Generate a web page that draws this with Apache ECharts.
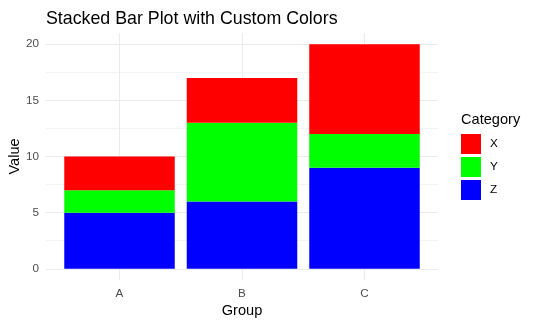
<!DOCTYPE html>
<html><head><meta charset="utf-8">
<script src="https://cdn.jsdelivr.net/npm/echarts@6/dist/echarts.min.js"></script>
<style>html,body{margin:0;padding:0;background:#fff}#c{width:534px;height:325px}</style>
</head><body><div id="c"></div>
<script>
const groups = ['A', 'B', 'C'];
const categories = ['X', 'Y', 'Z'];
const valuesX = [3, 4, 8];
const valuesY = [2, 7, 3];
const valuesZ = [5, 6, 9];
const yTicks = [0, 5, 10, 15, 20];
const yGridLines = [0, 2.5, 5, 7.5, 10, 12.5, 15, 17.5, 20];
const colors = { X: '#FF0000', Y: '#00FF00', Z: '#0000FF' };
const seriesValues = { X: valuesX, Y: valuesY, Z: valuesZ };

const font = '"Liberation Sans", Arial, sans-serif';
const chart = echarts.init(document.getElementById('c'), null, { renderer: 'canvas' });

const stackOrder = ['Z', 'Y', 'X'];
const series = stackOrder.map(k => ({
  name: k,
  type: 'bar',
  stack: 'total',
  barWidth: 110.5,
  itemStyle: { color: colors[k] },
  emphasis: { disabled: true },
  encode: { x: 1, y: 0 },
  data: seriesValues[k].map((v, i) => [v, i + 1])
}));

chart.setOption({
  animation: false,
  textStyle: { fontFamily: font },
  title: [
    { text: 'Stacked Bar Plot with Custom Colors', left: 41, top: 5,
      textStyle: { fontFamily: font, fontSize: 17.8, fontWeight: 'normal', color: '#000' } },
    { text: 'Category', left: 456, top: 107,
      textStyle: { fontFamily: font, fontSize: 14.6, fontWeight: 'normal', color: '#000' } }
  ],
  legend: {
    data: categories,
    orient: 'vertical',
    left: 456, top: 129,
    itemWidth: 20, itemHeight: 20, itemGap: 3,
    icon: 'rect',
    selectedMode: false,
    textStyle: { fontFamily: font, fontSize: 11.7, color: '#000', padding: [0, 0, 0, 4] }
  },
  grid: { left: 46, right: 96, top: 33, bottom: 45, containLabel: false, outerBoundsMode: 'none' },
  xAxis: {
    type: 'value', min: 0.4, max: 3.6,
    name: 'Group', nameLocation: 'middle', nameGap: 23, nameMoveOverlap: false,
    nameTextStyle: { fontFamily: font, fontSize: 14.6, color: '#000' },
    axisLine: { show: false },
    axisTick: { show: false, customValues: [1, 2, 3] },
    axisLabel: { customValues: [1, 2, 3], formatter: v => groups[Math.round(v) - 1],
      fontFamily: font, fontSize: 11.7, color: '#4D4D4D', margin: 8 },
    splitLine: { show: true, lineStyle: { color: '#EBEBEB', width: 1 } }
  },
  yAxis: {
    type: 'value', min: -1, max: 21,
    name: 'Value', nameLocation: 'middle', nameGap: 24, nameRotate: 90, nameMoveOverlap: false,
    nameTextStyle: { fontFamily: font, fontSize: 14.6, color: '#000' },
    axisLine: { show: false },
    axisTick: { show: false, customValues: yGridLines },
    axisLabel: { customValues: yTicks, fontFamily: font, fontSize: 11.7, color: '#4D4D4D', margin: 7 },
    splitLine: { show: true, lineStyle: { color: ['#EBEBEB', '#F4F4F4'], width: 1 } }
  },
  series: series
});
</script></body></html>
